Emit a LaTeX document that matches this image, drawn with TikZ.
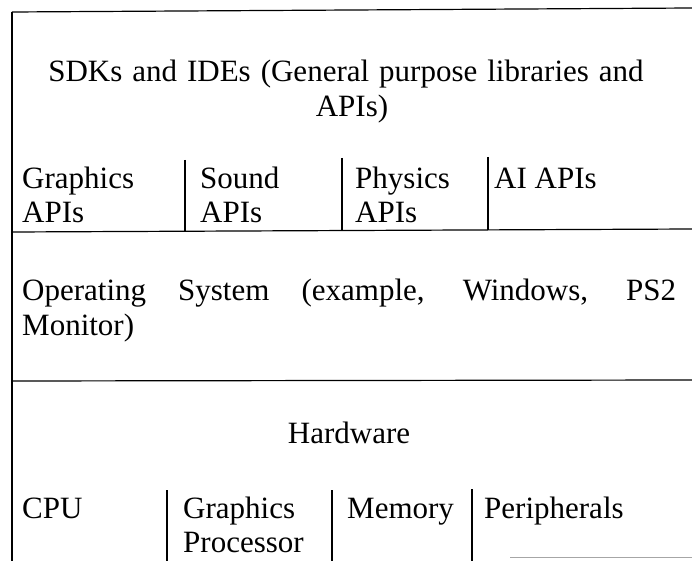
\documentclass[tikz,border=0pt]{standalone}
\usepackage{fontspec}
\setmainfont{Liberation Serif}
\tikzset{
  rule/.style={line width=1.2bp, black},
  faint/.style={line width=1bp, black!35},
  txt/.style={inner sep=0pt, anchor=base west, font=\fontsize{31bp}{35bp}\selectfont},
  ctxt/.style={inner sep=0pt, anchor=base, font=\fontsize{31bp}{35bp}\selectfont},
}
\begin{document}
\begin{tikzpicture}[x=1bp,y=-1bp]
\useasboundingbox (0,0) rectangle (692,561);
% frame coordinates
\coordinate (tl) at (12,12);
\coordinate (tr) at (692,8);
\coordinate (bl) at (12,561);
\coordinate (r1l) at (12,232);
\coordinate (r1r) at (692,229);
\coordinate (r2l) at (12,381);
\coordinate (r2r) at (692,380);
\draw[rule] (tl) -- (tr);
\draw[rule] (tl) -- (bl);
\draw[rule] (r1l) -- (r1r);
\draw[rule] (r2l) -- (r2r);
% API dividers
\coordinate (a1t) at (185,160); \coordinate (a1b) at (185,231);
\coordinate (a2t) at (342,158); \coordinate (a2b) at (342,231);
\coordinate (a3t) at (488,157); \coordinate (a3b) at (488,230);
\draw[rule] (a1t) -- (a1b);
\draw[rule] (a2t) -- (a2b);
\draw[rule] (a3t) -- (a3b);
% hardware dividers
\coordinate (h1t) at (167,490); \coordinate (h1b) at (167,561);
\coordinate (h2t) at (332,490); \coordinate (h2b) at (332,561);
\coordinate (h3t) at (472,489); \coordinate (h3b) at (472,561);
\draw[rule] (h1t) -- (h1b);
\draw[rule] (h2t) -- (h2b);
\draw[rule] (h3t) -- (h3b);
% faint line bottom right
\coordinate (fl) at (510,557); \coordinate (fr) at (692,557);
\draw[faint] (fl) -- (fr);
% texts
\node[ctxt] (sdk1) at (346,82) {\spaceskip=10bp plus 2bp SDKs and IDEs (General purpose libraries and};
\node[ctxt] (sdk2) at (352,117) {APIs)};
\node[txt] (gfx1) at (22,189) {Graphics};
\node[txt] (gfx2) at (22,223) {APIs};
\node[txt] (snd1) at (200,189) {Sound};
\node[txt] (snd2) at (200,223) {APIs};
\node[txt] (phy1) at (355,189) {Physics};
\node[txt] (phy2) at (355,223) {APIs};
\node[txt] (ai) at (494,189) {AI APIs};
\node[txt] (os1) at (22,300) {\makebox[654bp][s]{Operating System (example, Windows, PS2}};
\node[txt] (os2) at (22,335) {Monitor)};
\node[ctxt] (hw) at (349,443) {Hardware};
\node[txt] (cpu) at (22,518) {CPU};
\node[txt] (gp1) at (183,518) {Graphics};
\node[txt] (gp2) at (183,552) {Processor};
\node[txt] (mem) at (347,518) {Memory};
\node[txt] (per) at (484,518) {Peripherals};
\end{tikzpicture}
\end{document}
